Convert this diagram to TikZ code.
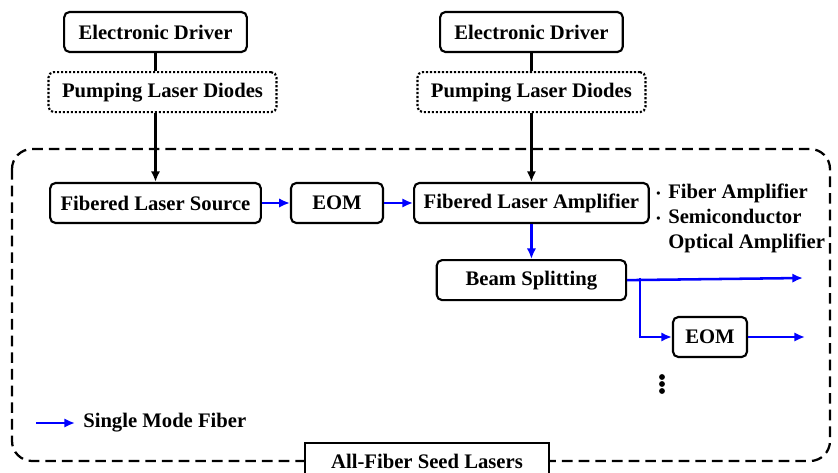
\documentclass[tikz,border=0pt]{standalone}
\usepackage{fontspec}
\setmainfont{Liberation Serif}[BoldFont={Liberation Serif Bold}]
\usetikzlibrary{positioning,arrows.meta}

\tikzset{
  unit/.style={draw, rounded corners=4pt, line width=1.6pt, minimum height=30pt,
               inner sep=2pt, align=center},
  pump/.style={unit, dash pattern=on 1.6pt off 1.4pt},
  feed/.style={line width=1.7pt},
  fiber/.style={-{Latex[length=8pt,width=7pt]}, blue, line width=1.9pt},
}

\begin{document}
\begin{tikzpicture}[x=0.75pt, y=-0.75pt, >={Latex[length=8pt,width=7pt]},
    every node/.style={font=\fontsize{15.5}{18.75}\selectfont\bfseries}]
  \useasboundingbox (0,0) rectangle (838,473);

  % all-fiber part
  \draw[line width=1.7pt, dash pattern=on 8pt off 4.5pt, rounded corners=15pt]
    (12,149) rectangle (830,461);

  \node (src) [unit, minimum width=158pt] at (155.5,203) {Fibered Laser Source};
  \node (eom1) [unit, minimum width=69pt, right=21pt of src] {EOM};
  \node (amp) [unit, minimum width=176pt, right=21.75pt of eom1]
    {Fibered Laser Amplifier};
  \node (split) [unit, minimum width=142pt, below=26.25pt of amp] {Beam Splitting};
  \node (eom2) [unit, minimum width=55.5pt] at (710,337) {EOM};

  % pumping
  \node (drv1) [unit, minimum width=137pt] at (155.5,32) {Electronic Driver};
  \node (pld1) [pump, minimum width=171pt, below=13.5pt of drv1, xshift=5.25pt]
    {Pumping Laser Diodes};
  \node (drv2) [unit, minimum width=137pt] at (amp |- drv1) {Electronic Driver};
  \node (pld2) [pump, minimum width=171pt, below=13.5pt of drv2]
    {Pumping Laser Diodes};

  \draw[feed] (drv1) -- (pld1.north -| drv1);
  \draw[feed,->] (pld1.south -| drv1) -- (src);
  \draw[feed] (drv2) -- (pld2);
  \draw[feed,->] (pld2) -- (amp);

  % fiber links
  \coordinate (tap) at (640,278);
  \coordinate (out1) at (803,278);
  \coordinate (out2) at (805,337);
  \draw[fiber] (src) -- (eom1);
  \draw[fiber] (eom1) -- (amp);
  \draw[fiber] (amp) -- (split);
  \draw[fiber] (split.east) -- (out1);
  \draw[fiber] (tap) |- (eom2);
  \draw[fiber] (eom2) -- (out2);
  \foreach \y in {377,384,391}
    \fill (662,\y) circle (2.2pt);

  \node (kinds) [anchor=north west, align=left, inner sep=0pt] at (656,184)
    {\makebox[9pt][l]{\raisebox{1pt}{\small•}}Fiber Amplifier\\
     \makebox[9pt][l]{\raisebox{1pt}{\small•}}Semiconductor\\
     \makebox[9pt][l]{}Optical Amplifier};

  % legend
  \coordinate (legtail) at (36,423);
  \coordinate (leghead) at (75,423);
  \node (legend) [anchor=west, inner sep=0pt] at (83,423) {Single Mode Fiber};
  \draw[fiber] (legtail) -- (leghead);

  \node (title) [draw, fill=white, line width=1.2pt, minimum width=183pt,
                 minimum height=27pt] at (427,461) {All-Fiber Seed Lasers};
\end{tikzpicture}
\end{document}
